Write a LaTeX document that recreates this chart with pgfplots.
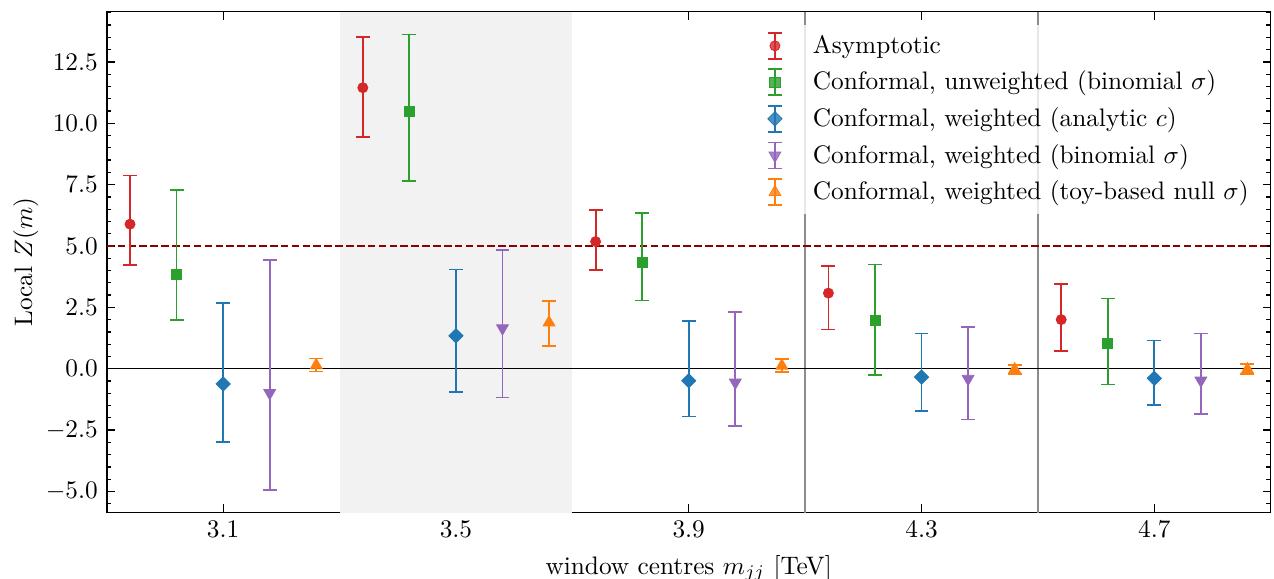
\documentclass[border=0pt]{standalone}
\usepackage{pgfplots}
\pgfplotsset{compat=1.18}
\usepackage{pgfplotstable}

\definecolor{cred}{HTML}{D62728}
\definecolor{cgreen}{HTML}{2CA02C}
\definecolor{cblue}{HTML}{1F77B4}
\definecolor{cpurple}{HTML}{9467BD}
\definecolor{corange}{HTML}{FF7F0E}
\definecolor{cdarkred}{HTML}{8B0000}

% x = window centre + offset; y = local Z; ep/em = upper/lower error
\pgfplotstableread{
x y ep em
2.94 5.89 1.98 1.68
3.34 11.45 2.06 2.01
3.74 5.18 1.30 1.17
4.14 3.08 1.12 1.48
4.54 2.00 1.44 1.28
}\asym
\pgfplotstableread{
x y ep em
3.02 3.86 3.42 1.87
3.42 10.50 3.12 2.86
3.82 4.32 2.02 1.54
4.22 1.96 2.29 2.23
4.62 1.04 1.82 1.68
}\unw
\pgfplotstableread{
x y ep em
3.10 -0.62 3.29 2.36
3.50 1.34 2.70 2.30
3.90 -0.49 2.44 1.46
4.30 -0.34 1.77 1.39
4.70 -0.39 1.54 1.09
}\wana
\pgfplotstableread{
x y ep em
3.18 -0.99 5.43 3.94
3.58 1.65 3.19 2.82
3.98 -0.56 2.88 1.77
4.38 -0.41 2.12 1.66
4.78 -0.48 1.91 1.35
}\wbin
\pgfplotstableread{
x y ep em
3.26 0.14 0.28 0.25
3.66 1.88 0.88 0.96
4.06 0.12 0.27 0.25
4.46 -0.03 0.19 0.19
4.86 -0.03 0.22 0.19
}\wtoy

\pgfplotsset{
  errleg/.style={
    legend image code/.code={
      \path (0cm,0cm) (0.75cm,0cm);
      \draw[##1, line width=0.7pt] (0.3cm,-0.18cm) -- (0.3cm,0.18cm)
        (0.205cm,-0.18cm) -- (0.395cm,-0.18cm)
        (0.205cm,0.18cm) -- (0.395cm,0.18cm);
      \draw[##1] plot coordinates {(0.3cm,0cm)};
    }
  },
  ebar/.style={
    only marks, color=#1, mark size=2pt,
    mark options={fill=#1, draw=#1, solid, line width=0.3pt},
    errleg,
    error bars/y dir=both, error bars/y explicit,
    error bars/error bar style={color=#1, line width=0.7pt},
    error bars/error mark options={rotate=90, color=#1, mark size=2.75pt, line width=0.7pt}
  }
}

\begin{document}
\begin{tikzpicture}
\begin{axis}[
  scale only axis,
  width=460.1pt, height=198pt,
  xmin=2.9, xmax=4.9, ymin=-5.86, ymax=14.55,
  xtick={3.1,3.5,3.9,4.3,4.7},
  ytick={-5,-2.5,0,2.5,5,7.5,10,12.5},
  minor ytick={-5.5,-5,...,14.5},
  xticklabel style={/pgf/number format/.cd, fixed, fixed zerofill, precision=1},
  yticklabel style={/pgf/number format/.cd, fixed, fixed zerofill, precision=1},
  tick align=inside,
  xtick pos=both, ytick pos=both,
  major tick length=3.2pt, minor tick length=1.8pt,
  tick style={black, line width=0.5pt},
  axis line style={black, line width=0.6pt},
  xlabel={window centres $m_{jj}$ [TeV]},
  ylabel={Local $Z(m)$},
  ylabel shift=-4pt,
  legend style={at={(1,1)}, anchor=north east, xshift=-3.5pt, yshift=-5pt,
    draw=none, fill=white, fill opacity=0.8, text opacity=1,
    inner xsep=3pt, inner ysep=2pt, row sep=1.5pt,
    cells={anchor=west}},
  legend cell align=left,
]
\fill[black!5] (axis cs:3.3,-5.86) rectangle (axis cs:3.7,14.55);
\addplot[black!45, line width=0.5pt, forget plot] coordinates {(4.1,-5.86) (4.1,14.55)};
\addplot[black!45, line width=0.5pt, forget plot] coordinates {(4.5,-5.86) (4.5,14.55)};
\addplot[black, line width=0.6pt, forget plot] coordinates {(2.9,0) (4.9,0)};
\addplot[cdarkred, line width=0.8pt, dash pattern=on 3pt off 1.3pt, forget plot] coordinates {(2.9,5) (4.9,5)};

\addplot[ebar=cred, mark=*] table[x=x, y=y, y error plus=ep, y error minus=em] {\asym};
\addlegendentry{Asymptotic}
\addplot[ebar=cgreen, mark=square*] table[x=x, y=y, y error plus=ep, y error minus=em] {\unw};
\addlegendentry{Conformal, unweighted (binomial $\sigma$)}
\addplot[ebar=cblue, mark=square*, every mark/.append style={rotate=45}] table[x=x, y=y, y error plus=ep, y error minus=em] {\wana};
\addlegendentry{Conformal, weighted (analytic $c$)}
\addplot[ebar=cpurple, mark=triangle*, mark size=2.7pt, every mark/.append style={rotate=180}] table[x=x, y=y, y error plus=ep, y error minus=em] {\wbin};
\addlegendentry{Conformal, weighted (binomial $\sigma$)}
\addplot[ebar=corange, mark=triangle*, mark size=2.7pt] table[x=x, y=y, y error plus=ep, y error minus=em] {\wtoy};
\addlegendentry{Conformal, weighted (toy-based null $\sigma$)}
\end{axis}
\pgfresetboundingbox
\path ([shift={(-42.2pt,-26.2pt)}]current axis.south west) rectangle ([shift={(1.3pt,4.6pt)}]current axis.north east);
\end{tikzpicture}
\end{document}
